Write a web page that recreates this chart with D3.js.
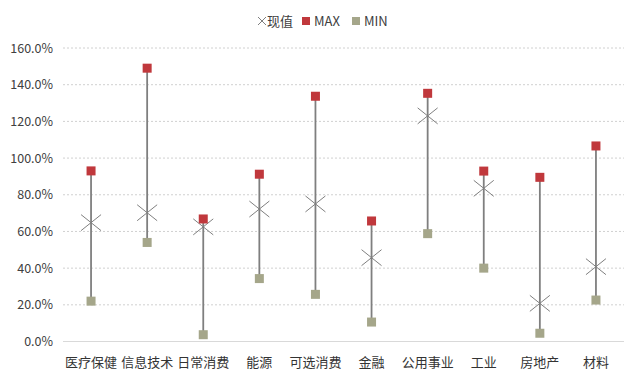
<!DOCTYPE html>
<html><head><meta charset="utf-8">
<script src="https://cdn.jsdelivr.net/npm/d3@7"></script>
<style>body{margin:0;background:#fff;}svg{display:block;}text{font-family:"Noto Sans CJK SC","Microsoft YaHei",sans-serif;}</style>
</head><body><svg id="c" width="640" height="381"></svg>
<script>
const categories = ["医疗保健","信息技术","日常消费","能源","可选消费","金融","公用事业","工业","房地产","材料"];
const current = [64.8, 70.2, 62.5, 72.2, 75.0, 45.7, 123.0, 83.5, 20.8, 40.8];
const maxVals = [93.0, 149.0, 66.8, 91.2, 133.7, 65.7, 135.3, 92.9, 89.5, 106.6];
const minVals = [22.0, 54.0, 3.7, 34.3, 25.7, 10.6, 58.8, 40.0, 4.5, 22.6];
const yTicks = [0,20,40,60,80,100,120,140,160];

const svg = d3.select("#c");
const x = d3.scaleBand().domain(categories).range([63,624]);
const y = d3.scaleLinear().domain([0,160]).range([341.5,48]);

// gridlines
svg.append("g").selectAll("line").data(yTicks.filter(d=>d>0)).join("line")
  .attr("x1",63).attr("x2",624).attr("y1",d=>y(d)).attr("y2",d=>y(d))
  .attr("stroke","#d0d0d0").attr("stroke-width",1).attr("stroke-dasharray","2,2");
svg.append("line").attr("x1",63).attr("x2",624).attr("y1",y(0)).attr("y2",y(0))
  .attr("stroke","#d9d9d9").attr("stroke-width",1.2);

// y axis labels
const yAxis = d3.axisLeft(y).tickValues(yTicks).tickFormat(d=>d.toFixed(1)+"%").tickSize(0).tickPadding(0);
const ya = svg.append("g").attr("transform","translate(53,0)").call(yAxis);
ya.select(".domain").remove();
ya.selectAll("text").attr("font-size",12.5).attr("fill","#404040")
  .attr("font-family","'Noto Sans','Open Sans',sans-serif");

// x axis labels
const xAxis = d3.axisBottom(x).tickSize(0).tickPadding(0);
const xa = svg.append("g").attr("transform","translate(0,360)").call(xAxis);
xa.select(".domain").remove();
xa.selectAll("text").attr("font-size",13).attr("fill","#333").attr("dy","0.5em");

const cx = d => x(d)+x.bandwidth()/2;
const rows = categories.map((c,i)=>({c, cur:current[i], mx:maxVals[i], mn:minVals[i]}));

// range lines
svg.append("g").selectAll("line").data(rows).join("line")
  .attr("x1",d=>cx(d.c)).attr("x2",d=>cx(d.c))
  .attr("y1",d=>y(d.mx)).attr("y2",d=>y(d.mn))
  .attr("stroke","#7f7f7f").attr("stroke-width",1.8);

// current X markers
const s = 10;
const g = svg.append("g").selectAll("g").data(rows).join("g")
  .attr("transform",d=>`translate(${cx(d.c)},${y(d.cur)})`);
g.append("line").attr("x1",-s).attr("y1",-s*0.8).attr("x2",s).attr("y2",s*0.8).attr("stroke","#7f7f7f").attr("stroke-width",1);
g.append("line").attr("x1",-s).attr("y1",s*0.8).attr("x2",s).attr("y2",-s*0.8).attr("stroke","#7f7f7f").attr("stroke-width",1);

// MAX squares
const sq = 9;
svg.append("g").selectAll("rect").data(rows).join("rect")
  .attr("x",d=>cx(d.c)-sq/2).attr("y",d=>y(d.mx)-sq/2).attr("width",sq).attr("height",sq)
  .attr("fill","#c0383c");
// MIN squares
svg.append("g").selectAll("rect").data(rows).join("rect")
  .attr("x",d=>cx(d.c)-sq/2).attr("y",d=>y(d.mn)-sq/2).attr("width",sq).attr("height",sq)
  .attr("fill","#a5a68a");

// legend
const lg = svg.append("g").attr("font-size",13).attr("fill","#404040");
lg.append("line").attr("x1",258).attr("y1",17).attr("x2",266).attr("y2",25).attr("stroke","#7f7f7f");
lg.append("line").attr("x1",258).attr("y1",25).attr("x2",266).attr("y2",17).attr("stroke","#7f7f7f");
lg.append("text").attr("x",267).attr("y",26).text("现值").attr("fill","#404040");
lg.append("rect").attr("x",302).attr("y",17).attr("width",8).attr("height",8).attr("fill","#c0383c");
lg.append("text").attr("x",314).attr("y",26).text("MAX").attr("fill","#404040").attr("font-family","'Noto Sans',sans-serif");
lg.append("rect").attr("x",352).attr("y",17).attr("width",8).attr("height",8).attr("fill","#a5a68a");
lg.append("text").attr("x",364).attr("y",26).text("MIN").attr("fill","#404040").attr("font-family","'Noto Sans',sans-serif");
</script></body></html>
